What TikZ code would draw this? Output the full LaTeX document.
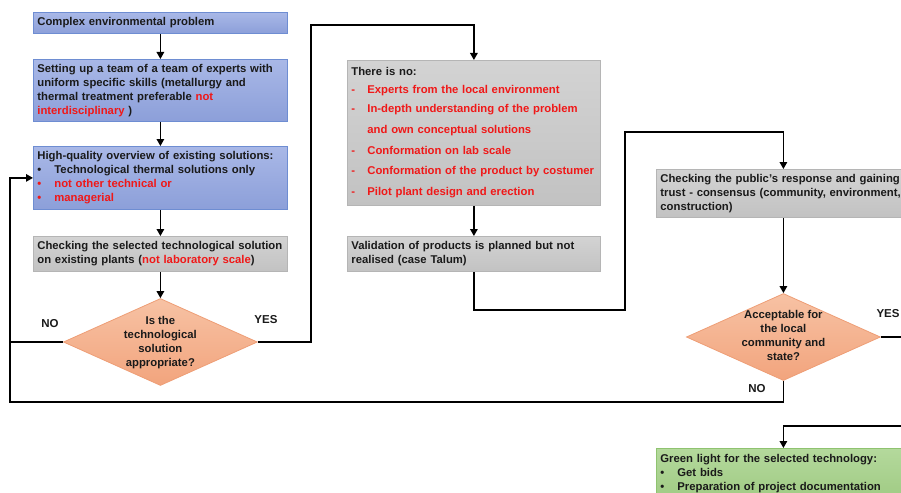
\documentclass[tikz,border=0pt]{standalone}
\usepackage{fontspec}
\setmainfont{Liberation Sans}
\usetikzlibrary{shapes.geometric,arrows.meta}
\definecolor{txt}{HTML}{1A1A1A}
\definecolor{rd}{HTML}{F01818}
\definecolor{bluetop}{HTML}{A9B8E7}
\definecolor{bluebot}{HTML}{8C9FD9}
\definecolor{blueedge}{HTML}{6E8DD2}
\definecolor{graytop}{HTML}{D3D3D3}
\definecolor{graybot}{HTML}{C2C2C2}
\definecolor{grayedge}{HTML}{B5B5B5}
\definecolor{ortop}{HTML}{F7C2A4}
\definecolor{orbot}{HTML}{F2A47D}
\definecolor{oredge}{HTML}{EE9E76}
\definecolor{grtop}{HTML}{B4D99C}
\definecolor{grbot}{HTML}{A0CB84}
\definecolor{gredge}{HTML}{8FC370}
\newcommand{\bul}[1]{\makebox[17pt][l]{#1}}
\newcommand{\dsh}{\makebox[16pt][l]{-}}
\begin{document}
\begin{tikzpicture}[x=1pt,y=-1pt,
  basebox/.style={draw, line width=0.8pt, anchor=north west, inner xsep=4pt, inner ysep=2pt,
    align=left, text=txt, font=\bfseries\fontsize{11.3}{14}\selectfont},
  bluebox/.style={basebox, draw=blueedge, top color=bluetop, bottom color=bluebot},
  graybox/.style={basebox, draw=grayedge, top color=graytop, bottom color=graybot},
  greenbox/.style={basebox, draw=gredge, top color=grtop, bottom color=grbot},
  decision/.style={diamond, draw=oredge, line width=0.8pt, top color=ortop, bottom color=orbot,
    minimum width=194pt, minimum height=87pt, inner sep=0pt},
  dtext/.style={align=center, text=txt, inner sep=0pt, font=\bfseries\fontsize{11.3}{14}\selectfont},
  lbl/.style={font=\bfseries\fontsize{11.5}{14}\selectfont, text=txt},
  conn/.style={line width=1.4pt, black},
  arr/.style={conn, -{Triangle[width=7.5pt,length=7pt]}}]
\useasboundingbox (0,0) rectangle (901,492);
\clip (0,0) rectangle (901,492);

% left column
\node[bluebox, text width=246pt, minimum height=21pt] (b1) at (33,12) {Complex environmental problem};
\node[bluebox, text width=246pt, minimum height=62pt] (b2) at (33,59)
  {Setting up a team of a team of experts with\\uniform specific skills (metallurgy and\\thermal treatment preferable \textcolor{rd}{not}\\\textcolor{rd}{interdisciplinary} )};
\node[bluebox, text width=246pt, minimum height=63pt] (b3) at (33,146)
  {High-quality overview of existing solutions:\\\bul{•}Technological thermal solutions only\\\textcolor{rd}{\bul{•}not other technical or}\\\textcolor{rd}{\bul{•}managerial}};
\node[graybox, text width=246pt, minimum height=35pt] (b4) at (33,236)
  {Checking the selected technological solution\\on existing plants (\textcolor{rd}{not laboratory scale})};
\node[decision] (d1) at (b4.south |- 0,342) {};
\node[dtext] (d1t) at ([yshift=-1pt]d1.center) {Is the\\technological\\solution\\appropriate?};

% middle column
\node[graybox, text width=245pt, minimum height=145pt] (b6) at (347,60)
  {There is no:\\[4pt]
   \textcolor{rd}{\dsh Experts from the local environment}\\[5pt]
   \textcolor{rd}{\dsh In-depth understanding of the problem}\\[7pt]
   \textcolor{rd}{\hspace*{16pt}and own conceptual solutions}\\[7pt]
   \textcolor{rd}{\dsh Conformation on lab scale}\\[6pt]
   \textcolor{rd}{\dsh Conformation of the product by costumer}\\[7pt]
   \textcolor{rd}{\dsh Pilot plant design and erection}};
\node[graybox, text width=245pt, minimum height=35pt] (b7) at (347,236)
  {Validation of products is planned but not\\realised (case Talum)};

% right column
\node[graybox, text width=246pt, minimum height=48pt] (b8) at (656,169)
  {Checking the public's response and gaining\\trust - consensus (community, environment,\\construction)};
\node[decision] (d2) at (b8.south |- 0,337) {};
\node[dtext] (d2t) at ([yshift=2pt]d2.center) {Acceptable for\\the local\\community and\\state?};
\node[greenbox, text width=246pt, minimum height=50pt] (b10) at (656,448)
  {Green light for the selected technology:\\\bul{•}Get bids\\\bul{•}Preparation of project documentation};

% labels
\node[lbl] (no1) at (50,324) {NO};
\node[lbl] (yes1) at (266,320) {YES};
\node[lbl] (yes2) at (888,314) {YES};
\node[lbl] (no2) at (757,389) {NO};

% helper coordinates
\coordinate (c1) at (311,25);
\coordinate (lb) at (10,402);
\coordinate (c4) at (625,310);
\coordinate (c5) at (625,132);
\coordinate (r1) at (905,337);
\coordinate (r2) at (905,426);

% connectors
\draw[arr] (b1.south) -- (b2.north);
\draw[arr] (b2.south) -- (b3.north);
\draw[arr] (b3.south) -- (b4.north);
\draw[arr] (b4.south) -- (d1.north);
\draw[arr] (d1.east) -| (c1) -| (b6.north);
\draw[conn] (d1.west) -- (d1.west -| lb);
\draw[arr] (d2.south) |- (lb) |- (b3.west);
\draw[arr] (b6.south) -- (b7.north);
\draw[arr] (b7.south) |- (c4) -- (c5) -| (b8.north);
\draw[arr] (b8.south) -- (d2.north);
\draw[conn] (d2.east) -- (r1);
\draw[arr] (r2) -| (b10.north);
\end{tikzpicture}
\end{document}
